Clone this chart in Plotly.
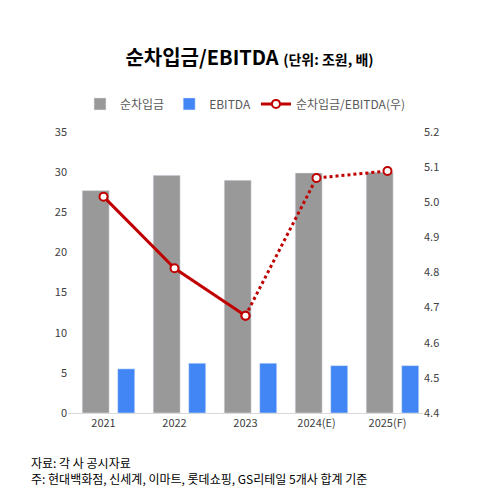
import plotly.graph_objects as go

years = ["2021", "2022", "2023", "2024(E)", "2025(F)"]
net_debt = [27.7, 29.6, 29.0, 29.9, 30.0]
ebitda = [5.5, 6.2, 6.2, 5.9, 5.9]
ratio = [5.016, 4.812, 4.677, 5.069, 5.089]

red = "#C00000"
fig = go.Figure()
fig.add_bar(x=years, y=net_debt, name="순차입금", marker_color="#999999",
            width=0.38, offset=-0.3)
fig.add_bar(x=years, y=ebitda, name="EBITDA", marker_color="#4285F4",
            width=0.24, offset=0.2)
fig.add_scatter(x=years[:3], y=ratio[:3], yaxis="y2", mode="lines+markers",
                name="순차입금/EBITDA(우)", line=dict(color=red, width=3),
                marker=dict(color="white", size=8, line=dict(color=red, width=2)))
fig.add_scatter(x=years[2:], y=ratio[2:], yaxis="y2", mode="lines+markers",
                showlegend=False, line=dict(color=red, width=3, dash="dot"),
                marker=dict(color="white", size=8, line=dict(color=red, width=2)))

fig.update_layout(
    width=483, height=500, plot_bgcolor="white", paper_bgcolor="white",
    font=dict(family="Noto Sans CJK KR", size=12, color="#404040"),
    margin=dict(l=60, r=68, t=124, b=95),
    barmode="overlay",
    title=dict(text="<b>순차입금/EBITDA</b> <span style='font-size:14px'><b>(단위: 조원, 배)</b></span>",
               x=0.5, xanchor="center", y=0.915, font=dict(size=20, color="black")),
    legend=dict(orientation="h", x=0.5, xanchor="center", y=1.1, yanchor="middle",
                font=dict(size=12, color="#595959")),
    xaxis=dict(showline=True, linecolor="#d9d9d9", tickfont=dict(size=11)),
    yaxis=dict(range=[0, 35], dtick=5, showgrid=False, showline=False, ticks="", tickfont=dict(size=11)),
    yaxis2=dict(range=[4.4, 5.2], dtick=0.1, overlaying="y", side="right", showgrid=False,
                tickformat=".1f", tickfont=dict(size=11)),
    annotations=[
        dict(text="자료: 각 사 공시자료<br>주: 현대백화점, 신세계, 이마트, 롯데쇼핑, GS리테일 5개사 합계 기준",
             xref="paper", yref="paper", x=-0.11, y=-0.14, xanchor="left", yanchor="top",
             showarrow=False, align="left", font=dict(size=12, color="black"))
    ],
)
fig.write_html("out.html")
